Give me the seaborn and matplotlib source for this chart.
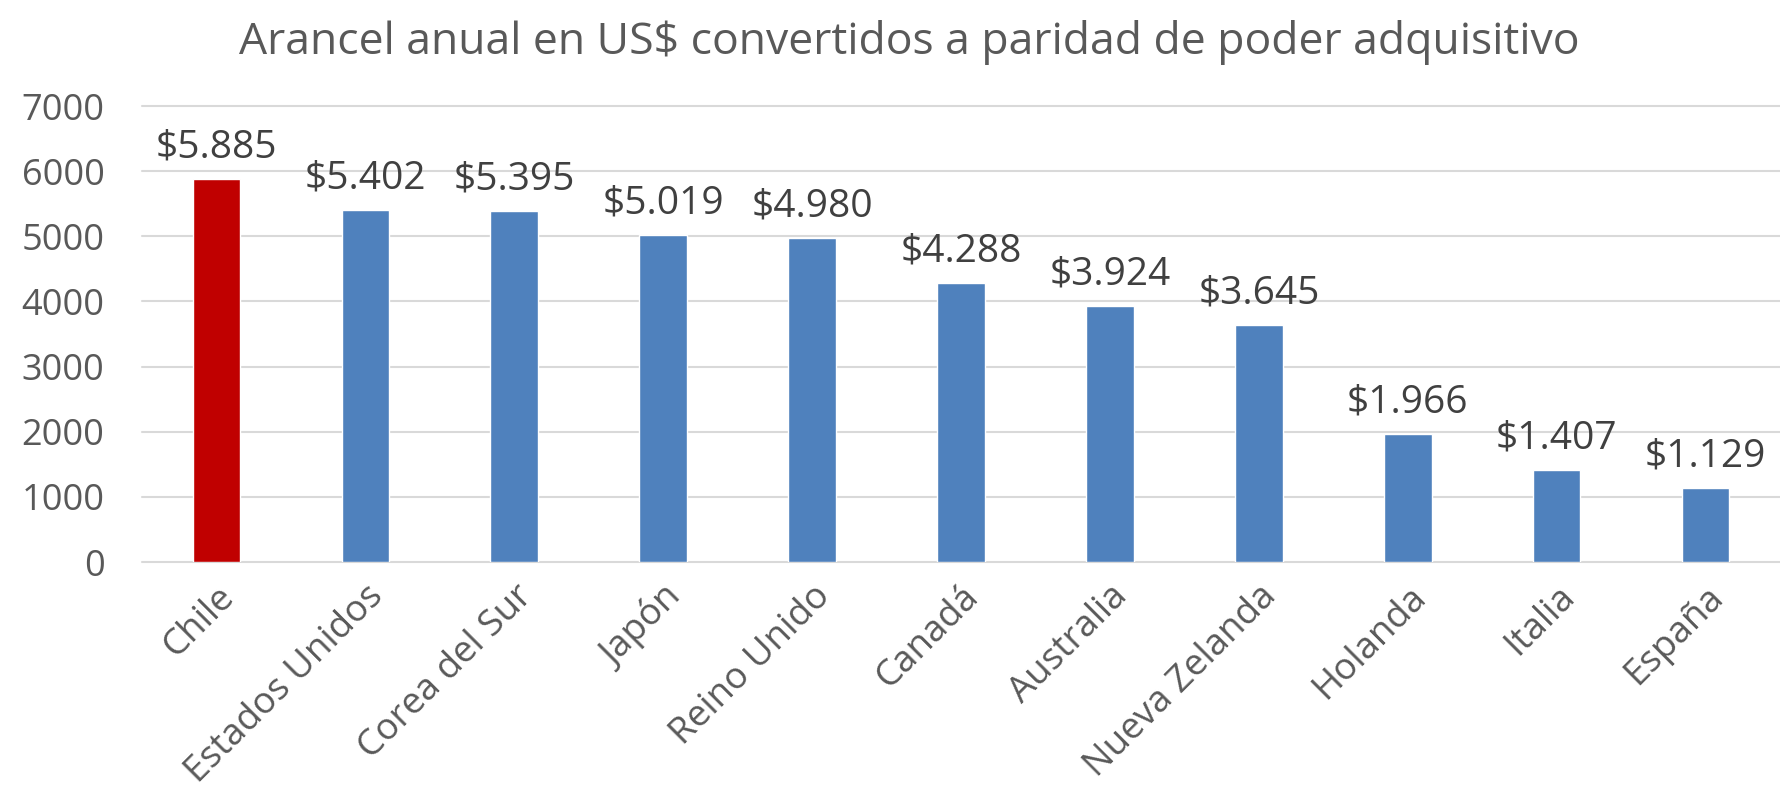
import matplotlib
matplotlib.use("Agg")
import matplotlib.pyplot as plt
import seaborn as sns

# data
paises = ['Chile', 'Estados Unidos', 'Corea del Sur', 'Japón', 'Reino Unido',
          'Canadá', 'Australia', 'Nueva Zelanda', 'Holanda', 'Italia', 'España']
aranceles = [5885, 5402, 5395, 5019, 4980, 4288, 3924, 3645, 1966, 1407, 1129]
etiquetas = ['$5.885', '$5.402', '$5.395', '$5.019', '$4.980', '$4.288',
             '$3.924', '$3.645', '$1.966', '$1.407', '$1.129']
colores = ['#C00000'] + ['#4F81BD'] * 10
yticks = [0, 1000, 2000, 3000, 4000, 5000, 6000, 7000]

sns.set_style('white')
plt.rcParams['font.family'] = ['Open Sans', 'DejaVu Sans']
texto = '#595959'

fig, ax = plt.subplots(figsize=(17.8, 8.02), dpi=100)
fig.subplots_adjust(left=142 / 1780, right=1.0, top=1 - 106 / 802, bottom=1 - 562 / 802)

sns.barplot(x=paises, y=aranceles, hue=paises, palette=colores, legend=False,
            width=0.32, saturation=1, ax=ax)

# value labels above every bar
for cont, lab in zip(ax.containers, etiquetas):
    ax.bar_label(cont, labels=[lab], padding=9, fontsize=28, color='#404040')

ax.set_ylim(0, 7000)
ax.set_yticks(yticks)
ax.set_yticklabels([str(v) for v in yticks], fontsize=26, color=texto)
ax.yaxis.grid(True, color='#D9D9D9', linewidth=1.5)
ax.set_axisbelow(True)
for s in ax.spines.values():
    s.set_visible(False)
ax.tick_params(axis='both', length=0)
ax.tick_params(axis='y', pad=27)
ax.tick_params(axis='x', pad=12)
for gl in ax.get_ygridlines():
    gl.set_clip_on(False)

ax.set_xticks(range(len(paises)))
ax.set_xticklabels(paises, rotation=45, ha='right', rotation_mode='anchor',
                   fontsize=26.5, color=texto)
ax.set_xlabel('')
ax.set_ylabel('')

fig.suptitle('Arancel anual en US$ convertidos a paridad de poder adquisitivo',
             fontsize=32, color=texto, y=0.975, x=0.511)

fig.savefig('out.png', dpi=100)
